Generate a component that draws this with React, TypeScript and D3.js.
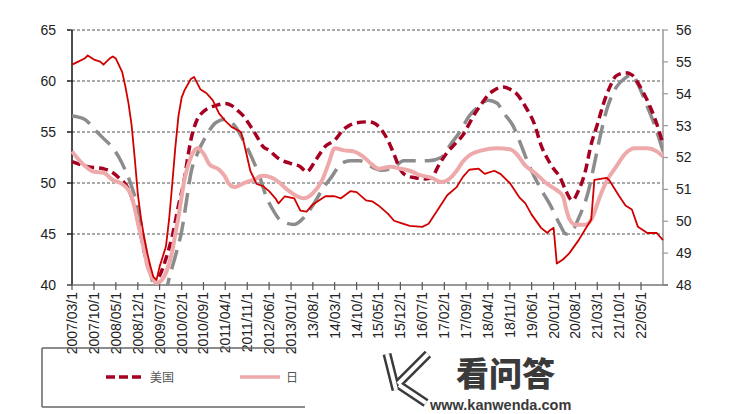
import React from 'react';
import * as d3 from 'd3';

const W = 729;
const H = 414;

const xTickLabels = ['2007/03/1','2007/10/1','2008/05/1','2008/12/1','2009/07/1','2010/02/1','2010/09/1','2011/04/1','2011/11/1','2012/06/1','2013/01/1','13/08/1','14/03/1','14/10/1','15/05/1','15/12/1','16/07/1','17/02/1','17/09/1','18/04/1','18/11/1','19/06/1','20/01/1','20/08/1','21/03/1','21/10/1','22/05/1'];
const leftTicks = [40, 45, 50, 55, 60, 65];
const rightTicks = [48, 49, 50, 51, 52, 53, 54, 55, 56];

// 美国 (left axis)
const usSeries: [string, number][] = [["2007-03",52.1],["2007-08",51.6],["2008-01",51.4],["2008-03",51.2],["2008-06",50.5],["2008-09",49.4],["2008-11",47.6],["2009-01",44.8],["2009-03",42.1],["2009-05",40.6],["2009-06",40.4],["2009-07",40.9],["2009-09",42.6],["2009-11",44.8],["2010-01",47.8],["2010-03",50.5],["2010-04",52.5],["2010-05",54.2],["2010-06",55.4],["2010-07",56.2],["2010-09",57.0],["2010-11",57.4],["2011-01",57.6],["2011-04",57.8],["2011-06",57.6],["2011-08",57.1],["2011-10",56.5],["2011-12",55.6],["2012-02",54.6],["2012-04",53.6],["2012-06",53.2],["2012-09",52.4],["2013-01",51.9],["2013-04",51.6],["2013-06",51.1],["2013-09",52.3],["2013-12",53.6],["2014-03",54.2],["2014-06",55.3],["2014-08",55.7],["2014-10",55.9],["2015-02",56.0],["2015-04",55.8],["2015-06",55.2],["2015-08",54.2],["2015-10",52.8],["2015-12",51.3],["2016-02",50.7],["2016-05",50.5],["2016-08",50.4],["2016-10",50.5],["2016-12",51.6],["2017-03",53.0],["2017-06",54.0],["2017-08",54.7],["2017-10",55.8],["2017-12",56.9],["2018-02",57.8],["2018-04",58.6],["2018-06",59.1],["2018-09",59.4],["2018-11",59.2],["2019-01",58.8],["2019-04",57.5],["2019-07",55.7],["2019-09",53.7],["2019-11",52.4],["2020-01",51.4],["2020-03",50.6],["2020-05",49.2],["2020-07",48.3],["2020-09",49.3],["2020-11",51.0],["2021-01",53.8],["2021-03",55.7],["2021-05",57.8],["2021-07",59.4],["2021-09",60.5],["2021-12",60.8],["2022-02",60.6],["2022-04",59.8],["2022-06",58.7],["2022-08",57.4],["2022-10",55.8],["2022-12",53.8]];

// 日本 (left axis)
const japanSeries: [string, number][] = [["2007-03",53.1],["2007-06",52.0],["2007-10",51.1],["2008-01",51.0],["2008-04",50.3],["2008-07",49.9],["2008-09",49.3],["2008-10",48.7],["2008-11",47.5],["2008-12",46.1],["2009-01",44.8],["2009-02",43.4],["2009-03",42.0],["2009-04",41.1],["2009-05",40.5],["2009-06",40.2],["2009-07",40.3],["2009-08",40.6],["2009-09",41.2],["2009-10",42.1],["2009-11",43.3],["2009-12",45.0],["2010-01",46.7],["2010-02",48.7],["2010-03",50.4],["2010-04",51.6],["2010-05",52.5],["2010-07",53.4],["2010-09",52.9],["2010-11",51.8],["2011-02",51.3],["2011-04",50.6],["2011-05",50.0],["2011-07",49.6],["2011-08",49.7],["2011-10",50.0],["2012-01",50.3],["2012-04",50.7],["2012-07",50.5],["2012-09",50.1],["2012-12",49.3],["2013-03",48.7],["2013-05",48.5],["2013-08",49.0],["2013-11",50.3],["2014-01",51.9],["2014-03",53.4],["2014-06",53.2],["2014-09",53.1],["2014-12",52.6],["2015-03",51.8],["2015-05",51.4],["2015-09",51.6],["2015-12",51.4],["2016-03",51.2],["2016-06",50.8],["2016-10",50.5],["2017-01",50.1],["2017-04",50.5],["2017-06",51.2],["2017-08",52.1],["2017-10",52.7],["2018-02",53.2],["2018-07",53.4],["2018-11",53.3],["2019-01",52.9],["2019-04",51.7],["2019-07",51.0],["2019-11",49.9],["2020-02",49.3],["2020-04",48.7],["2020-05",47.5],["2020-06",46.5],["2020-08",45.9],["2020-11",45.9],["2021-01",46.4],["2021-04",48.8],["2021-06",50.2],["2021-09",51.6],["2021-12",52.9],["2022-03",53.4],["2022-07",53.4],["2022-10",53.1],["2022-12",52.6]];

// red solid series (left axis)
const redSeries: [string, number][] = [["2007-03",61.6],["2007-05",61.9],["2007-07",62.2],["2007-08",62.5],["2007-10",62.1],["2007-12",61.9],["2008-01",61.6],["2008-03",62.2],["2008-04",62.4],["2008-05",62.2],["2008-07",60.9],["2008-08",59.5],["2008-09",57.8],["2008-10",55.7],["2008-11",52.4],["2008-12",48.9],["2009-01",46.5],["2009-02",44.6],["2009-03",43.2],["2009-04",41.9],["2009-05",40.8],["2009-06",40.5],["2009-07",41.8],["2009-08",42.8],["2009-09",43.8],["2009-10",46.4],["2009-11",49.9],["2009-12",53.5],["2010-01",56.6],["2010-02",58.4],["2010-03",59.1],["2010-05",60.2],["2010-06",60.4],["2010-08",59.2],["2010-10",58.8],["2010-12",58.1],["2011-02",56.8],["2011-04",56.1],["2011-06",55.5],["2011-09",55.0],["2011-10",53.9],["2011-12",51.2],["2012-02",49.9],["2012-04",49.7],["2012-06",49.2],["2012-08",48.5],["2012-09",48.0],["2012-11",48.7],["2013-02",48.5],["2013-04",47.3],["2013-06",47.2],["2013-08",47.9],["2013-12",48.7],["2014-03",48.7],["2014-05",48.5],["2014-08",49.2],["2014-10",49.1],["2015-01",48.3],["2015-03",48.2],["2015-05",47.8],["2015-08",47.0],["2015-10",46.3],["2015-12",46.1],["2016-03",45.8],["2016-07",45.7],["2016-09",46.0],["2016-12",47.4],["2017-03",48.8],["2017-06",49.6],["2017-08",50.6],["2017-10",51.3],["2018-01",51.4],["2018-03",50.9],["2018-06",51.2],["2018-08",50.9],["2018-11",50.0],["2019-02",48.6],["2019-04",48.0],["2019-06",46.9],["2019-09",45.6],["2019-11",45.1],["2019-12",45.4],["2020-01",45.6],["2020-02",42.1],["2020-04",42.5],["2020-06",43.1],["2020-09",44.4],["2020-12",45.9],["2021-01",46.4],["2021-02",50.3],["2021-06",50.5],["2021-07",50.2],["2021-10",48.7],["2021-12",47.8],["2022-02",47.4],["2022-04",45.7],["2022-07",45.1],["2022-10",45.1],["2022-12",44.4]];

// gray dashed series (right axis)
const graySeries: [string, number][] = [["2007-03",53.3],["2007-07",53.2],["2007-10",52.9],["2008-01",52.6],["2008-04",52.3],["2008-06",52.0],["2008-08",51.6],["2008-10",51.1],["2008-12",50.4],["2009-01",49.9],["2009-03",48.9],["2009-05",48.0],["2009-07",47.3],["2009-09",47.8],["2009-10",48.2],["2009-12",48.9],["2010-02",49.7],["2010-04",50.9],["2010-05",51.5],["2010-07",52.1],["2010-10",52.7],["2011-01",53.1],["2011-04",53.2],["2011-07",53.0],["2011-10",52.5],["2011-12",52.1],["2012-03",51.4],["2012-05",50.8],["2012-07",50.4],["2012-10",50.0],["2013-02",49.9],["2013-05",50.1],["2013-08",50.5],["2013-11",51.0],["2014-02",51.4],["2014-05",51.8],["2014-08",51.9],["2014-11",51.9],["2015-03",51.7],["2015-06",51.6],["2015-10",51.7],["2016-01",51.9],["2016-09",51.9],["2017-01",52.0],["2017-04",52.4],["2017-07",52.8],["2017-10",53.3],["2018-01",53.6],["2018-04",53.8],["2018-07",53.7],["2018-09",53.4],["2018-12",53.0],["2019-03",52.3],["2019-05",51.8],["2019-09",51.0],["2019-12",50.5],["2020-03",49.9],["2020-05",49.6],["2020-07",49.7],["2020-09",50.1],["2020-12",50.9],["2021-02",51.8],["2021-04",52.7],["2021-06",53.5],["2021-09",54.2],["2021-12",54.5],["2022-02",54.6],["2022-04",54.3],["2022-07",53.6],["2022-09",53.1],["2022-12",52.2]];

const parse = d3.timeParse('%Y-%m');
const labelDate = (l: string) => {
  const p = l.split('/');
  const y = p[0].length === 2 ? 2000 + +p[0] : +p[0];
  return new Date(y, +p[1] - 1, 1);
};

export default function App() {
  const x = d3.scaleTime().domain([parse('2007-03')!, parse('2022-12')!]).range([72, 663]);
  const yL = d3.scaleLinear().domain([40, 65]).range([285, 30]);
  const yR = d3.scaleLinear().domain([48, 56]).range([285, 30]);
  const lineL = d3.line<[string, number]>().x(d => x(parse(d[0])!)).y(d => yL(d[1]));
  const lineLs = d3.line<[string, number]>().x(d => x(parse(d[0])!)).y(d => yL(d[1])).curve(d3.curveMonotoneX);
  const lineRs = d3.line<[string, number]>().x(d => x(parse(d[0])!)).y(d => yR(d[1])).curve(d3.curveMonotoneX);
  const font = "'Liberation Sans Narrow','Arial Narrow','Liberation Sans',Arial,sans-serif";

  return (
    <svg width={W} height={H} style={{ position: 'absolute', left: 0, top: 0, background: '#fff' }} fontFamily={font}>
      <defs>
        <clipPath id="plotclip"><rect x={72} y={20} width={591} height={266} /></clipPath>
      </defs>
      {/* gridlines */}
      {leftTicks.filter(t => t > 40).map(t => (
        <line key={'g' + t} x1={67} x2={663} y1={yL(t)} y2={yL(t)} stroke="#555" strokeWidth={1.2} strokeDasharray="3,2" />
      ))}
      {/* left axis */}
      <line x1={72} x2={72} y1={30} y2={285} stroke="#111" strokeWidth={1.5} />
      {leftTicks.map(t => (
        <g key={'l' + t}>
          <line x1={67} x2={72} y1={yL(t)} y2={yL(t)} stroke="#111" strokeWidth={1.2} />
          <text x={56} y={yL(t)} dy="0.35em" textAnchor="end" fontSize={14} fill="#222">{t}</text>
        </g>
      ))}
      {/* right axis */}
      <line x1={663} x2={663} y1={30} y2={285} stroke="#999" strokeWidth={1.5} />
      {rightTicks.map(t => (
        <g key={'r' + t}>
          <line x1={663} x2={668} y1={yR(t)} y2={yR(t)} stroke="#999" strokeWidth={1.2} />
          <text x={676} y={yR(t)} dy="0.35em" textAnchor="start" fontSize={14} fill="#222">{t}</text>
        </g>
      ))}
      {/* x axis */}
      <line x1={72} x2={668} y1={285} y2={285} stroke="#777" strokeWidth={1.5} />
      {xTickLabels.map(l => {
        const px = x(labelDate(l));
        return (
          <g key={l}>
            <line x1={px} x2={px} y1={282} y2={290} stroke="#555" strokeWidth={1.2} />
            <text transform={`translate(${px},292) rotate(-90)`} dy="0.35em" textAnchor="end" fontSize={14} fill="#222">{l}</text>
          </g>
        );
      })}
      {/* series */}
      <g clipPath="url(#plotclip)">
        <path d={lineRs(graySeries)!} fill="none" stroke="#8c8c8c" strokeWidth={3.5} strokeDasharray="20,9" />
      </g>
      <path d={lineLs(usSeries)!} fill="none" stroke="#a50021" strokeWidth={3.5} strokeDasharray="9,5" />
      <path d={lineLs(japanSeries)!} fill="none" stroke="#eeaaaa" strokeWidth={4} />
      <path d={lineL(redSeries)!} fill="none" stroke="#d10000" strokeWidth={1.8} strokeLinejoin="round" />
      {/* legend */}
      <g stroke="#666" strokeWidth={1.5}>
        <line x1={42} x2={42} y1={348} y2={407} />
        <line x1={42} x2={295} y1={348} y2={348} />
        <line x1={42} x2={305} y1={407} y2={407} />
      </g>
      <line x1={106} x2={142} y1={377} y2={377} stroke="#a50021" strokeWidth={3.5} strokeDasharray="9,4" />
      <text x={150} y={381.5} fontSize={12} fill="#555" fontFamily="'Noto Sans CJK SC',sans-serif">美国</text>
      <line x1={240} x2={280} y1={377} y2={377} stroke="#eeaaaa" strokeWidth={3.5} />
      <text x={286} y={381.5} fontSize={12} fill="#555" fontFamily="'Noto Sans CJK SC',sans-serif">日</text>
      {/* watermark */}
      <g fill="none" strokeLinecap="butt">
        <path d="M387,354 L396,390 M428,354 L398,384 M399,385 L426,403" stroke="#3a3a3a" strokeWidth={9} />
        <path d="M387,354 L396,390 M428,354 L398,384 M399,385 L426,403" stroke="#fff" strokeWidth={4} />
      </g>
      <text x={456} y={386} fontSize={33} fontWeight={900} fill="#3a3a3a" fontFamily="'Noto Sans CJK SC',sans-serif">看问答</text>
      <text x={430} y={410} fontSize={14.5} fontWeight={700} fill="#3a3a3a" fontFamily="'Liberation Sans',Arial,sans-serif">www.kanwenda.com</text>
    </svg>
  );
}
